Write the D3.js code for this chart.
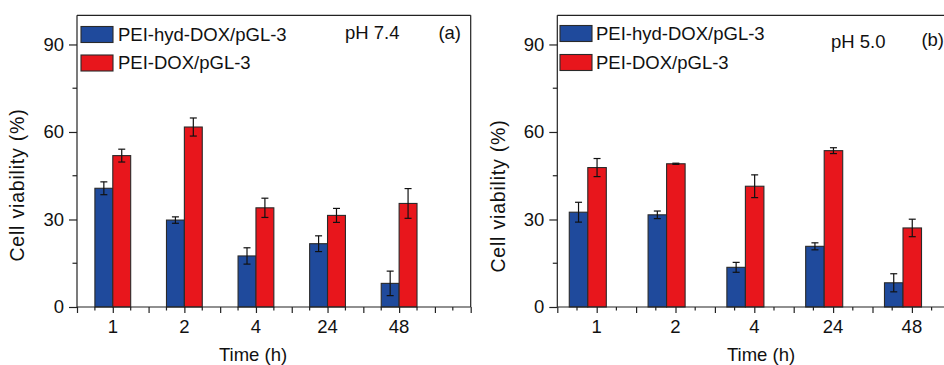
<!DOCTYPE html>
<html>
<head>
<meta charset="utf-8">
<script src="https://cdn.jsdelivr.net/npm/d3@7"></script>
<style>
  html, body { margin: 0; padding: 0; background: #fff; }
  svg { display: block; }
  text { font-family: "Liberation Sans", Arial, sans-serif; fill: #111; }
</style>
</head>
<body>
<svg id="chart" width="944" height="365"></svg>
<script>
// ---- data ----
const categories = ["1", "2", "4", "24", "48"];
const seriesNames = ["PEI-hyd-DOX/pGL-3", "PEI-DOX/pGL-3"];
const seriesColors = ["#1f4a9c", "#e8161c"];

const hydPH74 = [40.7, 29.8, 17.5, 21.7, 8.1];
const hydPH74Err = [2.2, 1.1, 2.8, 2.7, 4.2];
const doxPH74 = [51.9, 61.7, 34.0, 31.4, 35.5];
const doxPH74Err = [2.2, 3.1, 3.3, 2.4, 5.1];

const hydPH50 = [32.5, 31.6, 13.6, 20.8, 8.3];
const hydPH50Err = [3.4, 1.3, 1.7, 1.2, 3.1];
const doxPH50 = [47.8, 49.1, 41.4, 53.6, 27.1];
const doxPH50Err = [3.1, 0.2, 3.9, 1.0, 3.0];

const yTicks = [0, 30, 60, 90];
const yMinorTicks = [15, 45, 75];

const panels = [
  { tag: "(a)", ph: "pH 7.4", values: [hydPH74, doxPH74], errors: [hydPH74Err, doxPH74Err],
    x0: 77, x1: 470.7, barW: 0.25, shift: 0, frameRight: true,
    phPos: [345, 39], tagPos: [461, 39], legX: 81, legY: [26.5, 55], legTextX: 118,
    yLabel: [24, 185], xLabel: [253, 361] },
  { tag: "(b)", ph: "pH 5.0", values: [hydPH50, doxPH50], errors: [hydPH50Err, doxPH50Err],
    x0: 557.3, x1: 990.7, barW: 0.235, shift: -0.113, frameRight: true,
    phPos: [831, 48], tagPos: [944, 46], legX: 560, legY: [25.5, 54.5], legTextX: 596,
    yLabel: [505, 196], xLabel: [761, 361] }
];

const svg = d3.select("#chart");
const yTop = 15.3, yBottom = 307;
const fs = 18.5;

panels.forEach(p => {
  const x = d3.scaleLinear().domain([0.5, 6]).range([p.x0, p.x1]);
  const y = d3.scaleLinear().domain([0, 100]).range([yBottom, yTop]);
  const g = svg.append("g");

  // bars
  p.values.forEach((vals, si) => {
    g.selectAll(null).data(vals).enter().append("rect")
      .attr("x", (d, i) => x(i + 1 + p.shift + (si === 0 ? -p.barW : 0)))
      .attr("y", d => y(d))
      .attr("width", x(0.5 + p.barW) - x(0.5))
      .attr("height", d => y(0) - y(d))
      .attr("fill", seriesColors[si])
      .attr("stroke", "#2a2a2a")
      .attr("stroke-width", 1.1);
    // error bars
    const cx = i => x(i + 1 + p.shift + (si === 0 ? -p.barW / 2 : p.barW / 2));
    const eg = g.selectAll(null).data(vals).enter().append("g")
      .attr("stroke", "#111").attr("stroke-width", 1.2);
    eg.append("line")
      .attr("x1", (d, i) => cx(i)).attr("x2", (d, i) => cx(i))
      .attr("y1", (d, i) => y(d + p.errors[si][i])).attr("y2", (d, i) => y(d - p.errors[si][i]));
    eg.append("line")
      .attr("x1", (d, i) => cx(i) - 3.5).attr("x2", (d, i) => cx(i) + 3.5)
      .attr("y1", (d, i) => y(d + p.errors[si][i])).attr("y2", (d, i) => y(d + p.errors[si][i]));
    eg.append("line")
      .attr("x1", (d, i) => cx(i) - 3.5).attr("x2", (d, i) => cx(i) + 3.5)
      .attr("y1", (d, i) => y(d - p.errors[si][i])).attr("y2", (d, i) => y(d - p.errors[si][i]));
  });

  // frame
  g.append("line").attr("x1", x(0.5)).attr("x2", x(6)).attr("y1", yTop).attr("y2", yTop)
    .attr("stroke", "#222").attr("stroke-width", 1.2);
  if (p.frameRight) {
    g.append("line").attr("x1", x(6)).attr("x2", x(6)).attr("y1", yTop).attr("y2", yBottom)
      .attr("stroke", "#222").attr("stroke-width", 1.2);
  }

  // y axis
  const yAxis = g.append("g").attr("transform", `translate(${x(0.5)},0)`)
    .call(d3.axisLeft(y).tickValues(yTicks).tickSize(8).tickPadding(5));
  yAxis.select(".domain").attr("d", `M0,${yTop}V${yBottom}`).attr("stroke", "#222").attr("stroke-width", 1.2);
  yAxis.selectAll(".tick line").attr("stroke", "#222").attr("stroke-width", 1.2);
  yAxis.selectAll(".tick text").style("font-size", fs + "px").style("font-family", "Liberation Sans, Arial, sans-serif").attr("fill", "#111");
  yAxis.append("g").selectAll("line").data(yMinorTicks).enter().append("line")
    .attr("x1", -4.5).attr("x2", 0).attr("y1", d => y(d)).attr("y2", d => y(d))
    .attr("stroke", "#222").attr("stroke-width", 1.2);

  // x axis
  const majorX = d3.range(0.5, 6.01, 0.5);
  const minorX = d3.range(0.75, 6.01, 0.5);
  const xAxis = g.append("g").attr("transform", `translate(0,${yBottom})`)
    .call(d3.axisBottom(x).tickValues(majorX).tickSize(6).tickFormat(""));
  xAxis.select(".domain").attr("d", `M${x(0.5)},0H${x(6)}`).attr("stroke", "#222").attr("stroke-width", 1.2);
  xAxis.selectAll(".tick line").attr("stroke", "#222").attr("stroke-width", 1.2);
  xAxis.append("g").selectAll("line").data(minorX).enter().append("line")
    .attr("x1", d => x(d)).attr("x2", d => x(d)).attr("y1", 0).attr("y2", 3.5)
    .attr("stroke", "#222").attr("stroke-width", 1.2);
  xAxis.append("g").selectAll("text").data(categories).enter().append("text")
    .attr("x", (d, i) => x(i + 1)).attr("y", 26)
    .attr("text-anchor", "middle").style("font-size", fs + "px").text(d => d);

  // axis titles
  g.append("text").attr("x", p.xLabel[0]).attr("y", p.xLabel[1])
    .attr("text-anchor", "middle").style("font-size", fs + "px").text("Time (h)");
  g.append("text").attr("transform", `translate(${p.yLabel[0]},${p.yLabel[1]}) rotate(-90)`)
    .attr("text-anchor", "middle").style("font-size", "19.5px").style("letter-spacing", "0.8px")
    .text("Cell viability (%)");

  // legend
  seriesNames.forEach((name, si) => {
    g.append("rect").attr("x", p.legX).attr("y", p.legY[si]).attr("width", 32).attr("height", 16)
      .attr("fill", seriesColors[si]).attr("stroke", "#2a2a2a").attr("stroke-width", 1.1);
    g.append("text").attr("x", p.legTextX).attr("y", p.legY[si] + 8).attr("dy", "0.35em")
      .style("font-size", fs + "px").text(name);
  });

  // annotations
  g.append("text").attr("x", p.phPos[0]).attr("y", p.phPos[1]).style("font-size", fs + "px").text(p.ph);
  g.append("text").attr("x", p.tagPos[0]).attr("y", p.tagPos[1]).attr("text-anchor", "end")
    .style("font-size", fs + "px").text(p.tag);
});
</script>
</body>
</html>
